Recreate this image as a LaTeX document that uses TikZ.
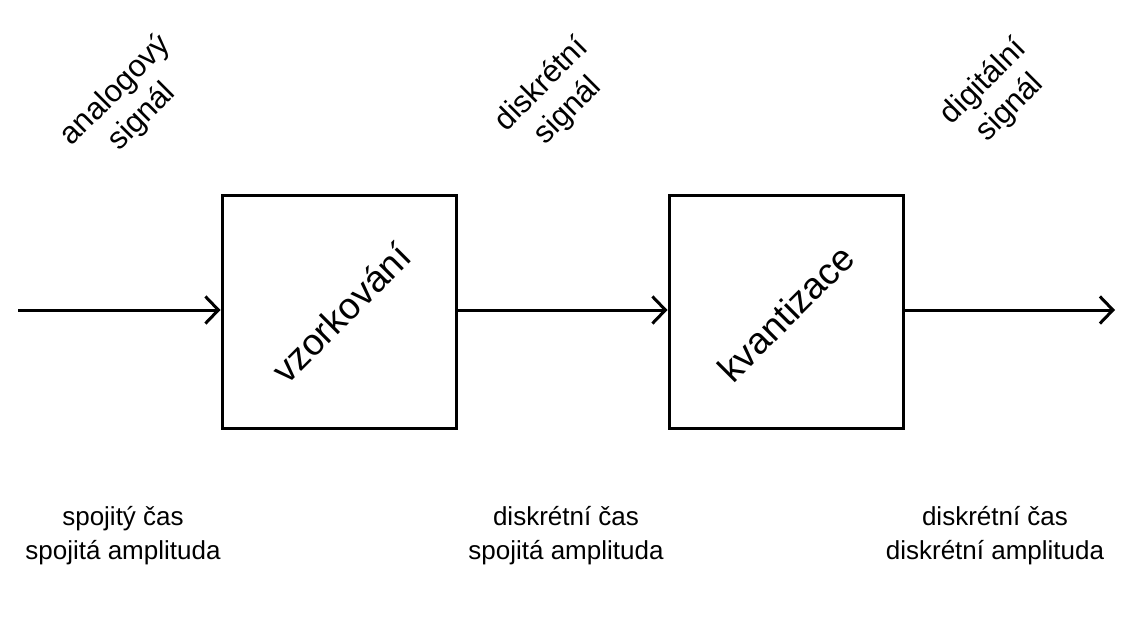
\documentclass[tikz,border=0pt]{standalone}
\usepackage{fontspec}
\setmainfont{Liberation Sans}
\usetikzlibrary{arrows.meta}
\begin{document}
\begin{tikzpicture}[x=1pt,y=-1pt,
  blockbox/.style={draw, line width=3pt, minimum width=234pt, minimum height=233pt, inner sep=0pt},
  flow/.style={line width=3pt, -{Straight Barb[length=13pt,width=27pt,line width=3pt]}},
  blocklabel/.style={rotate=45, font=\fontsize{37}{40}\selectfont},
  toplabel/.style={rotate=45, align=center, font=\fontsize{31}{37}\selectfont},
  botlabel/.style={align=center, font=\fontsize{26}{34}\selectfont}]
\useasboundingbox[fill=white] (0,0) rectangle (1139,623);
\node[blockbox] (b1) at (339,311.5) {};
\node[blockbox] (b2) at (786,311.5) {};
\node[blocklabel] (l1) at (341,313) {vzorkování};
\node[blocklabel] (l2) at (786,313) {kvantizace};
\coordinate (in) at (18,310);
\coordinate (out) at (1115,310);
\draw[flow] (in) -- (b1.west |- in);
\draw[flow] (b1.east |- in) -- (b2.west |- in);
\draw[flow] (b2.east |- in) -- (out);
\node[toplabel] (t1) at (129,104) {analogový\\signál};
\node[toplabel] (t2) at (555,98) {diskrétní\\signál};
\node[toplabel] (t3) at (997,95) {digitální\\signál};
\node[botlabel] (s1) at (123,536) {spojitý čas\\spojitá amplituda};
\node[botlabel] (s2) at (566,536) {diskrétní čas\\spojitá amplituda};
\node[botlabel] (s3) at (995,536) {diskrétní čas\\diskrétní amplituda};
\end{tikzpicture}
\end{document}
